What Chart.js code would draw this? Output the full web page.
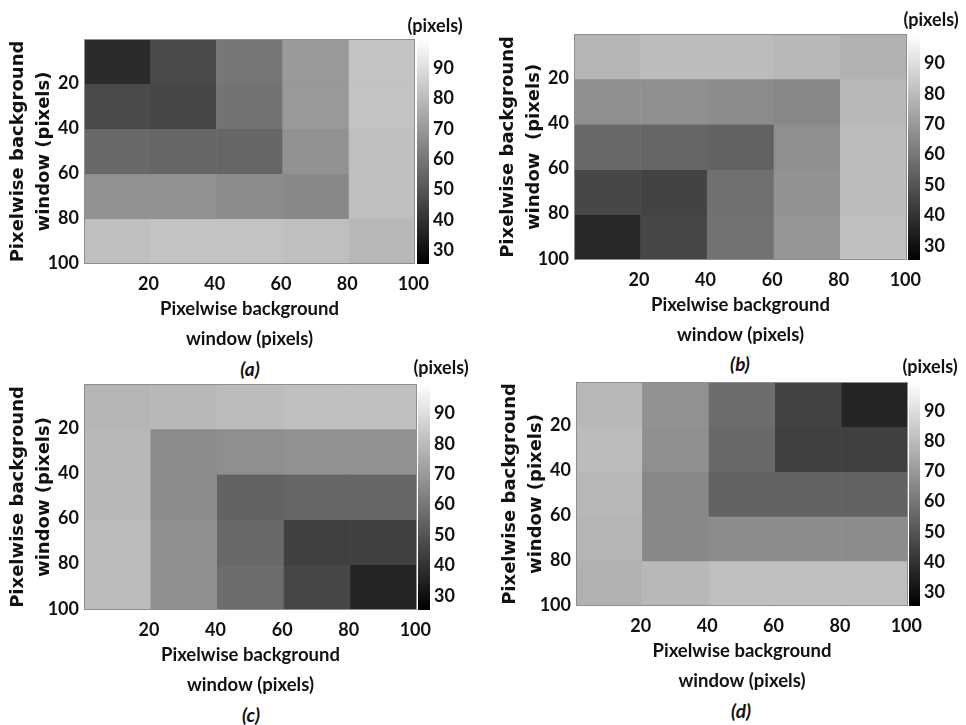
<!DOCTYPE html>
<html><head><meta charset="utf-8">
<style>
html,body{margin:0;padding:0;background:#fff;width:966px;height:725px;overflow:hidden}
canvas{position:absolute}
.t{position:absolute;transform:translate(-50%,-50%);white-space:nowrap;color:#111;font-family:Lato,sans-serif;font-weight:700;font-size:18px}
.c{font-style:italic;font-size:19px}
</style></head><body>
<script src="https://cdn.jsdelivr.net/npm/chart.js@4/dist/chart.umd.min.js"></script>
<script>
// Window edges (pixels) of the five 20-pixel blocks on each axis
const blockEdges = [0.5, 20.5, 40.5, 60.5, 80.5, 100.5];
const axisTicks = [20, 40, 60, 80, 100];
const colorbarTicks = [30, 40, 50, 60, 70, 80, 90];
const colorMin = 25.4, colorMax = 99.6;

// Mean value read for each block, row by row (top to bottom)
const panelA = [
  [38, 47, 60, 70, 82],
  [47, 46, 59, 70, 82],
  [56, 55, 55, 68, 81],
  [68, 68, 66, 65, 81],
  [81, 82, 82, 81, 79]
];
const panelB = [
  [78, 80, 80, 79, 77],
  [67, 67, 66, 65, 79],
  [56, 55, 54, 67, 80],
  [46, 45, 58, 68, 80],
  [37, 46, 59, 69, 81]
];
const panelC = [
  [78, 79, 80, 81, 81],
  [79, 66, 67, 68, 68],
  [79, 66, 54, 55, 55],
  [80, 67, 56, 44, 44],
  [80, 67, 57, 46, 36]
];
const panelD = [
  [79, 68, 57, 45, 36],
  [80, 67, 56, 44, 44],
  [79, 65, 54, 54, 54],
  [78, 65, 66, 66, 66],
  [77, 79, 81, 81, 81]
];
const xTitle = ['Pixelwise background', 'window (pixels)'];
const yTitle = ['Pixelwise background', 'window (pixels)'];
const yTitleB = ['Pixelwise background', 'window  (pixels)'];

Chart.defaults.animation = false;
const tickFont = { family: 'Lato', weight: 'bold', size: 18 };
const INK = '#111';
const FRAME = '#8f8f8f';

function grey(v) {
  const g = Math.round(Math.max(0, Math.min(1, (v - colorMin) / (colorMax - colorMin))) * 255);
  return `rgb(${g},${g},${g})`;
}
function noPad(a) { a.paddingLeft = a.paddingRight = a.paddingTop = a.paddingBottom = 0; }

const frame = {
  id: 'frame',
  afterDatasetsDraw(chart) {
    const { ctx, chartArea: a } = chart;
    ctx.save(); ctx.strokeStyle = FRAME; ctx.lineWidth = 1;
    ctx.strokeRect(a.left + 0.5, a.top + 0.5, a.right - a.left - 1, a.bottom - a.top - 1);
    ctx.restore();
  }
};

function addCanvas(l, t, w, h) {
  const c = document.createElement('canvas');
  c.width = w; c.height = h;
  c.style.left = l + 'px'; c.style.top = t + 'px';
  c.style.width = w + 'px'; c.style.height = h + 'px';
  document.body.appendChild(c);
  return c;
}
function addText(txt, x, y, cls) {
  const d = document.createElement('div');
  d.className = 't' + (cls ? ' ' + cls : '');
  d.textContent = txt;
  d.style.left = x + 'px'; d.style.top = y + 'px';
  document.body.appendChild(d);
}

function heatmap(values, box, ytitle) {
  const yW = 84, axisH = 90, extra = 22;
  const left = box.x0 - yW;
  const canvas = addCanvas(left, box.y0, box.x1 - left + extra, box.y1 - box.y0 + axisH);
  const datasets = values.map((row, r) => ({
    data: row.map((v, c) => ({
      x: (blockEdges[c] + blockEdges[c + 1]) / 2,
      y: [blockEdges[r], blockEdges[r + 1]],
      v
    })),
    backgroundColor: row.map(grey),
    borderColor: row.map(grey),
    borderWidth: 0.6,
    borderSkipped: false,
    grouped: false,
    barPercentage: 1,
    categoryPercentage: 1
  }));
  new Chart(canvas, {
    type: 'bar',
    data: { datasets },
    plugins: [frame],
    options: {
      responsive: false,
      layout: { padding: { right: extra } },
      plugins: { legend: { display: false }, tooltip: { enabled: false } },
      scales: {
        x: {
          type: 'linear', min: 0.5, max: 100.5, offset: false,
          grid: { display: false, drawTicks: false },
          border: { display: false },
          afterBuildTicks: a => { a.ticks = axisTicks.map(value => ({ value })); },
          afterFit: a => { a.height = axisH; noPad(a); },
          ticks: { autoSkip: false, maxRotation: 0, padding: 9, color: INK, font: tickFont },
          title: { display: true, text: xTitle, color: INK, padding: { top: 0, bottom: 0 },
                   font: { family: 'Lato', weight: 'bold', size: 18.5, lineHeight: 1.62 } }
        },
        y: {
          type: 'linear', reverse: true, min: 0.5, max: 100.5,
          grid: { display: false, drawTicks: false },
          border: { display: false },
          afterBuildTicks: a => { a.ticks = axisTicks.map(value => ({ value })); },
          afterFit: a => { a.width = yW; noPad(a); },
          ticks: { autoSkip: false, padding: 5, color: INK, font: tickFont },
          title: { display: true, text: ytitle, color: INK, padding: { top: 5, bottom: 0 },
                   font: { family: '"DejaVu Sans"', weight: 'bold', size: 18, lineHeight: 1.45 } }
        }
      }
    }
  });
}

function colorbar(box) {
  const w = box.x1 - box.x0 + 30;
  const canvas = addCanvas(box.x0, box.y0, w, box.y1 - box.y0);
  new Chart(canvas, {
    type: 'bar',
    data: {
      labels: ['(pixels)'],
      datasets: [{
        data: [[colorMin, colorMax]],
        barPercentage: 1, categoryPercentage: 1, borderWidth: 0,
        backgroundColor: ctx => {
          const a = ctx.chart.chartArea;
          if (!a) return '#888';
          const g = ctx.chart.ctx.createLinearGradient(0, a.bottom, 0, a.top);
          g.addColorStop(0, '#000'); g.addColorStop(1, '#fff');
          return g;
        }
      }]
    },
    options: {
      responsive: false,
      layout: { padding: 0 },
      plugins: { legend: { display: false }, tooltip: { enabled: false } },
      scales: {
        x: { display: false },
        y: {
          position: 'right', min: colorMin, max: colorMax,
          grid: { display: false, drawTicks: false },
          border: { display: false },
          afterBuildTicks: a => { a.ticks = colorbarTicks.map(value => ({ value })); },
          afterFit: a => { a.width = 30; noPad(a); },
          ticks: { autoSkip: false, padding: 4, color: INK, font: tickFont }
        }
      }
    }
  });
}

heatmap(panelA, { x0: 84, x1: 415, y0: 39, y1: 264 }, yTitle);
heatmap(panelB, { x0: 574, x1: 907, y0: 34, y1: 260 }, yTitleB);
heatmap(panelC, { x0: 84, x1: 417, y0: 384, y1: 610 }, yTitle);
heatmap(panelD, { x0: 576, x1: 908, y0: 382, y1: 606 }, yTitle);
colorbar({ x0: 417, x1: 429, y0: 39, y1: 264 });
colorbar({ x0: 908, x1: 920, y0: 34, y1: 260 });
colorbar({ x0: 418, x1: 430, y0: 384, y1: 610 });
colorbar({ x0: 909, x1: 920, y0: 382, y1: 606 });

addText('(pixels)', 435, 25);
addText('(pixels)', 931, 19);
addText('(pixels)', 441, 367);
addText('(pixels)', 930, 366);
addText('(a)', 250, 368, 'c');
addText('(b)', 740, 363, 'c');
addText('(c)', 251, 714, 'c');
addText('(d)', 741, 710, 'c');
</script>
</body></html>
